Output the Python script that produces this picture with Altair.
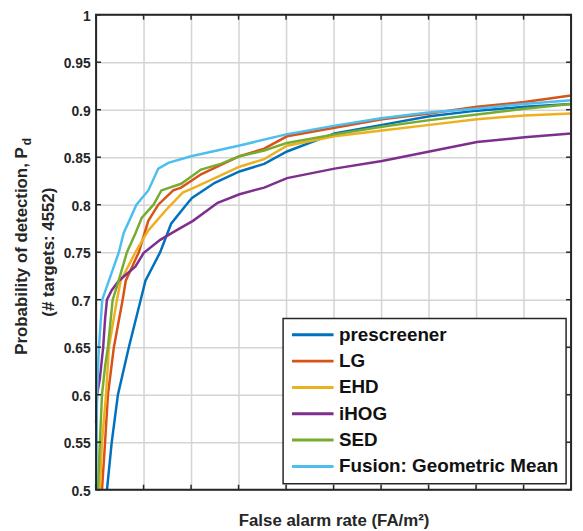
import altair as alt
import pandas as pd

# ---------------- data ----------------
series_names = ["prescreener", "LG", "EHD", "iHOG", "SED", "Fusion: Geometric Mean"]
series_colors = ["#0072BD", "#D95319", "#EDB120", "#7E2F8E", "#77AC30", "#4DBEEE"]

prescreener_x = [0.23, 0.33, 0.46, 0.69, 0.94, 1.04, 1.35, 1.58, 1.90, 2.02, 2.50, 3.02, 3.54, 4.02, 5.02, 6.02, 7.02, 8.02, 9.02, 10.0]
prescreener_y = [0.50, 0.55, 0.60, 0.65, 0.70, 0.72, 0.75, 0.78, 0.80, 0.807, 0.823, 0.835, 0.843, 0.856, 0.875, 0.884, 0.893, 0.899, 0.903, 0.906]

lg_x = [0.125, 0.19, 0.25, 0.375, 0.56, 0.625, 0.90, 1.10, 1.31, 1.625, 1.79, 2.21, 3.02, 3.54, 4.02, 5.02, 6.02, 7.02, 8.02, 9.02, 10.0]
lg_y = [0.50, 0.55, 0.60, 0.65, 0.70, 0.72, 0.75, 0.783, 0.80, 0.815, 0.818, 0.832, 0.851, 0.859, 0.872, 0.881, 0.890, 0.896, 0.903, 0.908, 0.915]

ehd_x = [0.08, 0.125, 0.21, 0.27, 0.44, 0.52, 0.83, 1.10, 1.52, 1.83, 2.02, 2.50, 3.02, 3.54, 4.02, 5.02, 6.02, 7.02, 8.02, 9.02, 10.0]
ehd_y = [0.50, 0.55, 0.60, 0.65, 0.70, 0.72, 0.75, 0.773, 0.797, 0.813, 0.817, 0.828, 0.840, 0.848, 0.862, 0.872, 0.878, 0.884, 0.890, 0.894, 0.896]

ihog_x = [0.0, 0.02, 0.08, 0.15, 0.19, 0.23, 0.33, 0.48, 0.83, 1.0, 1.35, 1.69, 2.04, 2.56, 3.02, 3.54, 4.02, 5.02, 6.02, 7.02, 8.02, 9.02, 10.0]
ihog_y = [0.57, 0.60, 0.617, 0.65, 0.68, 0.70, 0.71, 0.72, 0.735, 0.749, 0.763, 0.773, 0.783, 0.802, 0.811, 0.818, 0.828, 0.838, 0.846, 0.856, 0.866, 0.871, 0.875]

sed_x = [0.04, 0.08, 0.125, 0.19, 0.25, 0.35, 0.44, 0.65, 0.83, 0.96, 1.21, 1.375, 1.79, 2.21, 2.625, 3.02, 3.54, 4.02, 5.02, 6.02, 7.02, 8.02, 9.02, 10.0]
sed_y = [0.50, 0.55, 0.60, 0.63, 0.65, 0.70, 0.714, 0.75, 0.77, 0.786, 0.80, 0.815, 0.822, 0.837, 0.843, 0.851, 0.857, 0.865, 0.874, 0.882, 0.889, 0.895, 0.901, 0.906]

fusion_x = [0.0, 0.02, 0.06, 0.13, 0.27, 0.48, 0.58, 0.85, 1.10, 1.31, 1.52, 2.0, 3.0, 4.0, 5.0, 6.0, 7.0, 8.0, 9.0, 10.0]
fusion_y = [0.50, 0.60, 0.65, 0.70, 0.72, 0.75, 0.77, 0.80, 0.815, 0.838, 0.844, 0.851, 0.862, 0.874, 0.883, 0.891, 0.897, 0.901, 0.906, 0.910]

x_grid = [0, 1, 2, 3, 4, 5, 6, 7, 8, 9, 10]
y_ticks = [0.5, 0.55, 0.6, 0.65, 0.7, 0.75, 0.8, 0.85, 0.9, 0.95, 1.0]

x_title = "False alarm rate (FA/m²)"
y_title_main = "Probability of detection, P"
y_title_sub = "d"
y_title_2 = "(# targets: 4552)"

# ---------------- chart ----------------
FONT = "Liberation Sans"
TXT = "#262626"
W, H = 480, 480
TL = 5  # inward tick length

all_x = [prescreener_x, lg_x, ehd_x, ihog_x, sed_x, fusion_x]
all_y = [prescreener_y, lg_y, ehd_y, ihog_y, sed_y, fusion_y]

x_scale = alt.Scale(domain=[0, 10], nice=False, zero=False)
y_scale = alt.Scale(domain=[0.5, 1.0], nice=False, zero=False)

x_axis = alt.Axis(values=x_grid, labels=False, ticks=False, domain=False, grid=True,
                  title=x_title, titleFont=FONT, titleFontSize=17, titleFontWeight="bold",
                  titleColor=TXT, titlePadding=23)
y_axis = alt.Axis(values=y_ticks, format="~g", ticks=False, domain=False, grid=True,
                  title=None, labelPadding=6, labelOffset=1.5)

color_enc = alt.Color("series:N", scale=alt.Scale(domain=series_names, range=series_colors),
                      legend=alt.Legend(title=None, orient="none", legendX=189, legendY=307,
                                        fillColor="white", strokeColor=TXT, padding=7.5,
                                        rowPadding=7.6, labelFont=FONT, labelFontSize=19,
                                        labelFontWeight="bold", labelColor="#111111",
                                        labelLimit=400, symbolType="stroke", symbolSize=1764,
                                        symbolStrokeWidth=3, clipHeight=18, labelOffset=4))

layers = []
for name, xs, ys in zip(series_names, all_x, all_y):
    df = pd.DataFrame({"x": xs, "y": ys, "series": name})
    layers.append(alt.Chart(df).mark_line(strokeWidth=2.5).encode(
        x=alt.X("x:Q", scale=x_scale, axis=x_axis),
        y=alt.Y("y:Q", scale=y_scale, axis=y_axis),
        color=color_enc))

# inward tick marks on all four sides
xt = pd.DataFrame({"x": x_grid})
yt = pd.DataFrame({"y": y_ticks})
rule_style = dict(color=TXT, strokeWidth=1.5)
for y0, y1 in [(0, TL), (H - TL, H)]:
    layers.append(alt.Chart(xt).mark_rule(**rule_style).encode(
        x=alt.X("x:Q", scale=x_scale, axis=x_axis), y=alt.value(y0), y2=alt.value(y1)))
for x0, x1 in [(0, TL), (W - TL, W)]:
    layers.append(alt.Chart(yt).mark_rule(**rule_style).encode(
        y=alt.Y("y:Q", scale=y_scale, axis=y_axis), x=alt.value(x0), x2=alt.value(x1)))

one = pd.DataFrame({"a": [0]})
# box frame
layers.append(alt.Chart(one).mark_rect(fill=None, stroke=TXT, strokeWidth=2).encode(
    x=alt.value(0), x2=alt.value(W), y=alt.value(0), y2=alt.value(H)))

txt_style = dict(font=FONT, fontWeight="bold", color=TXT, angle=270, baseline="alphabetic")
layers.append(alt.Chart(one).mark_text(text=y_title_main, align="right", fontSize=17, **txt_style)
              .encode(x=alt.value(-70), y=alt.value(134)))
layers.append(alt.Chart(one).mark_text(text=y_title_sub, align="left", fontSize=12, **txt_style)
              .encode(x=alt.value(-66), y=alt.value(132)))
layers.append(alt.Chart(one).mark_text(text=y_title_2, align="center", fontSize=17, **txt_style)
              .encode(x=alt.value(-43), y=alt.value(240)))

chart = alt.layer(*layers).properties(
    width=W, height=H,
    autosize=alt.AutoSizeParams(type="none"),
    padding={"left": 89, "top": 4, "right": 4, "bottom": 40},
).configure_view(stroke=None).configure_axis(
    gridColor="#d4d4d4", gridWidth=1.5, gridOpacity=1,
    labelFont=FONT, labelFontSize=14, labelFontWeight="bold", labelColor=TXT,
).configure_legend(strokeWidth=1.5)

chart.save("out.html", embed_options={"renderer": "svg", "actions": False})
